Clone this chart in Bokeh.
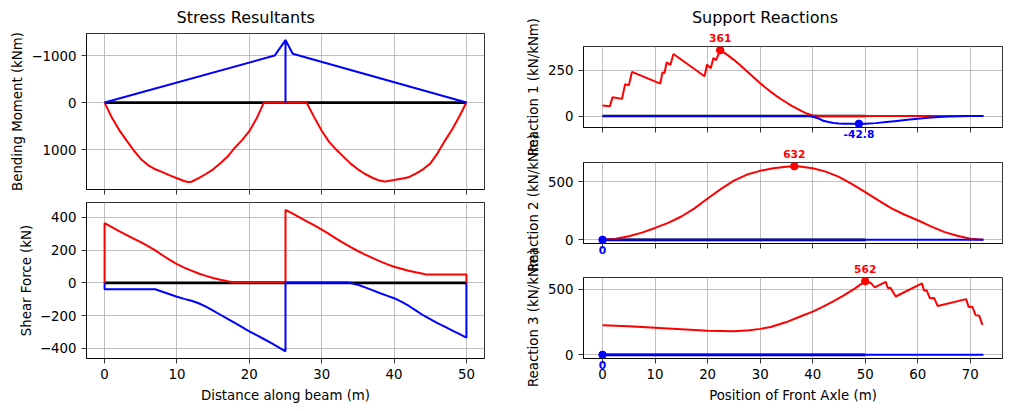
import math
from bokeh.plotting import figure
from bokeh.layouts import row, column
from bokeh.models import Range1d, FixedTicker, Label
from bokeh.embed import file_html
from bokeh.resources import INLINE

FONT = "DejaVu Sans"

# ---------------- beam data (left column) ----------------
beam_x = [0, 50]
beam_zero = [0, 0]

# bending moment envelope, sagging (red)
bm_max_x = [0, 1, 2, 3, 4, 5, 6, 7, 8, 9, 10, 11, 11.5, 12, 13, 14, 15, 16, 17, 18, 19, 20, 21, 22,
            25, 27.9, 29, 30, 31, 32, 33, 34, 35, 36, 37, 38, 38.7, 39, 40, 41, 42, 43, 44, 45, 46, 47, 48, 49, 50]
bm_max = [0, 320, 580, 800, 1010, 1200, 1330, 1420, 1480, 1550, 1610, 1670, 1690, 1685, 1610, 1520, 1420, 1290, 1150, 960, 800, 610, 340, 0,
          0, 0, 320, 600, 830, 1000, 1150, 1300, 1420, 1520, 1600, 1660, 1680, 1675, 1650, 1620, 1590, 1510, 1420, 1300, 1080, 820, 580, 300, 0]

# bending moment envelope, hogging (blue)
bm_min_x = [0, 23.5, 25, 25, 25, 26, 50]
bm_min = [0, -1000, -1330, 0, -1330, -1040, 0]

# shear force envelope, max (red)
sf_max_x = [0, 0, 1, 2, 3, 4, 5, 6, 7, 8, 9, 10, 11, 12, 13, 14, 15, 16, 17, 17.6, 25,
            25, 26, 27, 28, 29, 30, 31, 32, 33, 34, 35, 36, 37, 38, 39, 40, 41, 42, 43, 44, 44.5, 50, 50]
sf_max = [0, 364, 340, 316, 293, 270, 248, 224, 198, 168, 140, 114, 93, 74, 57, 42, 29, 18, 9, 5, 5,
          445, 422, 398, 374, 350, 325, 298, 270, 243, 217, 194, 172, 152, 132, 114, 98, 86, 74, 64, 55, 50, 50, 0]

# shear force envelope, min (blue)
sf_min_x = [0, 0, 7, 8, 9, 10, 11, 12, 13, 14, 15, 16, 17, 18, 19, 20, 21, 22, 23, 24, 25,
            25, 33.5, 34, 35, 36, 37, 38, 39, 40, 41, 42, 43, 44, 45, 46, 47, 48, 49, 50, 50]
sf_min = [0, -39, -39, -55, -70, -85, -98, -110, -125, -145, -170, -195, -220, -245, -270, -296, -320, -343, -367, -392, -418,
          2, 2, -2, -12, -28, -45, -62, -78, -94, -115, -140, -168, -198, -222, -246, -268, -290, -312, -334, 0]

# ---------------- support reactions (right column) ----------------
r1_max_x = [0, 1.4, 1.9, 3.7, 4.3, 5.0, 5.6, 11.0, 11.4, 11.8, 12.2, 12.9, 13.5, 19.4, 19.9, 20.6, 21.1, 21.6, 22.4,
            23, 24, 25, 26, 27, 28, 29, 30, 31, 32, 33, 34, 35, 36, 37, 38, 39, 40, 41, 72.5]
r1_max = [57, 53, 103, 94, 175, 168, 242, 178, 239, 236, 294, 280, 340, 218, 282, 262, 318, 306, 361,
          350, 330, 308, 284, 258, 232, 206, 180, 156, 133, 112, 92, 74, 56, 40, 25, 12, 3, 0, 0]
r1_min_x = [0, 39.5, 41, 42, 43, 44, 45, 46, 47, 48.8, 50, 52, 54, 56, 58, 60, 62, 64, 66, 68, 70, 72.5]
r1_min = [0, 0, -12, -26, -33, -38, -41, -42.2, -42.6, -42.8, -42.5, -39, -33, -27, -21, -15, -10, -6, -3, -1.5, -0.5, 0]

r2_max_x = [0, 2.5, 5, 7.5, 10, 12.5, 15, 17.5, 20, 22.5, 25, 27.5, 30, 32.5, 35, 36.5, 37.5, 40, 42.5, 45,
            47.5, 50, 52.5, 55, 57.5, 60, 62.5, 65, 67.5, 70, 72.5]
r2_max = [0, 10, 30, 62, 102, 145, 200, 270, 355, 435, 508, 560, 592, 615, 628, 632, 630, 615, 585, 540,
          478, 410, 338, 270, 215, 168, 115, 68, 35, 10, 0]
r2_min_x = [0, 72.5]
r2_min = [0, 0]

r3_max_x = [0, 5, 10, 15, 20, 25, 28, 30, 32, 35, 38, 40, 42, 44, 46, 48, 50,
            50.5, 51.0, 51.8, 53.9, 54.3, 54.8, 55.8, 60.8, 61.2, 61.7, 62.3, 63.1, 63.8, 69.2, 69.7, 70.4, 71.0, 71.7, 72.3]
r3_max = [225, 218, 207, 196, 183, 180, 188, 198, 212, 250, 298, 330, 368, 410, 455, 505, 562,
          548, 551, 515, 556, 510, 512, 445, 546, 490, 492, 432, 434, 372, 425, 364, 367, 303, 299, 228]
r3_min_x = [0, 72.5]
r3_min = [0, 0]

# ticks and labels
beam_xticks = [0, 10, 20, 30, 40, 50]
bm_yticks = [-1000, 0, 1000]
sf_yticks = [-400, -200, 0, 200, 400]
r_xticks = [0, 10, 20, 30, 40, 50, 60, 70]
r1_yticks = [0, 250]
r2_yticks = [0, 500]
r3_yticks = [0, 500]
reaction_labels = ["Reaction 1 (kN/kNm)", "Reaction 2 (kN/kNm)", "Reaction 3 (kN/kNm)"]

# ---------------- layout constants (pixels) ----------------
LEFT_W = 520
STRIP_W = 25
RIGHT_W = 1011 - LEFT_W - STRIP_W
R_FRAME_LEFT = 583 - LEFT_W - STRIP_W
R_FRAME_RIGHT = 9
R_TOPS = [46, 162, 277]          # frame tops of the three reaction panels
R_FRAME_H = 81
R_FIG_H = [145, 115, 151]


def minus_overrides(ticks):
    return {t: ("\u2212" + str(abs(t)) if t < 0 else str(t)) for t in ticks}


def make_fig(width, height, xr, yr, mbl, mbr, mbt, mbb):
    p = figure(width=width, height=height, x_range=xr, y_range=yr,
               output_backend="svg", toolbar_location=None,
               min_border_left=mbl, min_border_right=mbr,
               min_border_top=mbt, min_border_bottom=mbb)
    p.background_fill_color = "white"
    p.border_fill_color = "white"
    p.outline_line_color = "black"
    p.outline_line_width = 0.8
    p.outline_line_alpha = 1.0
    p.grid.grid_line_color = "#b0b0b0"
    p.grid.grid_line_width = 0.8
    for ax in p.axis:
        ax.axis_line_color = "black"
        ax.axis_line_width = 0.8
        ax.major_tick_line_color = "black"
        ax.major_tick_line_width = 0.8
        ax.major_tick_out = 5
        ax.major_tick_in = 0
        ax.minor_tick_line_color = None
        ax.major_label_text_font = FONT
        ax.major_label_text_font_size = "13.33px"
        ax.major_label_text_color = "black"
        ax.axis_label_text_font = FONT
        ax.axis_label_text_font_size = "13.33px"
        ax.axis_label_text_font_style = "normal"
        ax.axis_label_text_color = "black"
        ax.major_label_standoff = 5
        ax.axis_label_standoff = 6
    p.yaxis.axis_label_standoff = 3
    return p


def set_ticks(p, xticks, yticks, show_xlabels):
    p.xaxis.ticker = FixedTicker(ticks=xticks)
    p.yaxis.ticker = FixedTicker(ticks=yticks)
    p.yaxis.major_label_overrides = minus_overrides(yticks)
    if not show_xlabels:
        p.xaxis.major_label_text_font_size = "0px"
        p.xaxis.major_label_text_color = None
        p.xaxis.major_label_standoff = 0


def mark_extremes(p, xs_max, ys_max, xs_min, ys_min, min_side="below"):
    imax = max(range(len(ys_max)), key=lambda i: ys_max[i])
    imin = min(range(len(ys_min)), key=lambda i: ys_min[i])
    xm, ym = xs_max[imax], ys_max[imax]
    xn, yn = xs_min[imin], ys_min[imin]
    p.scatter(x=[xm], y=[ym], size=7.5, color="red")
    p.scatter(x=[xn], y=[yn], size=7.5, color="blue")
    p.add_layout(Label(x=xm, y=ym, text=f"{ym:.3g}", text_color="red", text_font=FONT,
                       text_font_style="bold", text_font_size="10.67px", text_align="center",
                       text_baseline="alphabetic", y_offset=12), "above")
    p.add_layout(Label(x=xn, y=yn, text=f"{yn:.3g}", text_color="blue", text_font=FONT,
                       text_font_style="bold", text_font_size="10.67px", text_align="center",
                       text_baseline="top", y_offset=-6), min_side)


BLACK_W = 2.7
COL_W = 2.0

# ---------- left column ----------
bx = Range1d(-2.5, 52.5)
p_bm = make_fig(LEFT_W, 200, bx, Range1d(1850, -1470), 86, 36, 33, 11)
set_ticks(p_bm, beam_xticks, bm_yticks, False)
p_bm.yaxis.axis_label = "Bending Moment (kNm)"
p_bm.title.text = "Stress Resultants"
p_bm.title.text_font = FONT
p_bm.title.text_font_size = "16px"
p_bm.title.text_font_style = "normal"
p_bm.title.text_color = "black"
p_bm.title.align = "left"
p_bm.title.offset = 90
p_bm.title.vertical_align = "middle"
p_bm.title.standoff = 12
p_bm.line(beam_x, beam_zero, color="black", line_width=BLACK_W)
p_bm.line(bm_max_x, bm_max, color="red", line_width=COL_W)
p_bm.line(bm_min_x, bm_min, color="blue", line_width=COL_W)

p_sf = make_fig(LEFT_W, 211, bx, Range1d(-462, 490), 86, 36, 2, 53)
set_ticks(p_sf, beam_xticks, sf_yticks, True)
p_sf.yaxis.axis_label = "Shear Force (kN)"
p_sf.xaxis.axis_label = "Distance along beam (m)"
p_sf.line(beam_x, beam_zero, color="black", line_width=BLACK_W)
p_sf.line(sf_max_x, sf_max, color="red", line_width=COL_W)
p_sf.line(sf_min_x, sf_min, color="blue", line_width=COL_W)

# ---------- strip holding the (overlapping) reaction axis titles ----------
strip = figure(width=STRIP_W, height=411, x_range=Range1d(0, STRIP_W), y_range=Range1d(411, 0),
               output_backend="svg", toolbar_location=None,
               x_axis_location=None, y_axis_location=None,
               min_border_left=0, min_border_right=0, min_border_top=0, min_border_bottom=0)
strip.outline_line_color = None
strip.grid.visible = False
strip.background_fill_color = "white"
strip.border_fill_color = "white"
for lab, top in zip(reaction_labels, R_TOPS):
    strip.add_layout(Label(x=STRIP_W / 2 + 0.5, y=top + R_FRAME_H / 2, text=lab, angle=math.pi / 2,
                           text_font=FONT, text_font_size="13.33px", text_color="black",
                           text_align="center", text_baseline="middle"))

# ---------- right column ----------
rx = Range1d(-3.625, 76.125)
p_r1 = make_fig(RIGHT_W, R_FIG_H[0], rx, Range1d(-63, 381.2), R_FRAME_LEFT, R_FRAME_RIGHT, 46, 18)
set_ticks(p_r1, r_xticks, r1_yticks, False)
p_r1.add_layout(Label(x=(rx.start + rx.end) / 2, y=p_r1.y_range.end, text="Support Reactions",
                      x_offset=-28, y_offset=29, text_font=FONT, text_font_size="16px",
                      text_color="black", text_align="center", text_baseline="middle"), "above")
p_r1.line(beam_x, beam_zero, color="black", line_width=BLACK_W)
p_r1.line(r1_max_x, r1_max, color="red", line_width=COL_W)
p_r1.line(r1_min_x, r1_min, color="blue", line_width=COL_W)
mark_extremes(p_r1, r1_max_x, r1_max, r1_min_x, r1_min)

p_r2 = make_fig(RIGHT_W, R_FIG_H[1], rx, Range1d(-31.6, 663.6), R_FRAME_LEFT, R_FRAME_RIGHT, 17, 17)
set_ticks(p_r2, r_xticks, r2_yticks, False)
p_r2.line(beam_x, beam_zero, color="black", line_width=BLACK_W)
p_r2.line(r2_max_x, r2_max, color="red", line_width=COL_W)
p_r2.line(r2_min_x, r2_min, color="blue", line_width=COL_W)
mark_extremes(p_r2, r2_max_x, r2_max, r2_min_x, r2_min)

p_r3 = make_fig(RIGHT_W, R_FIG_H[2], rx, Range1d(-28.1, 590.1), R_FRAME_LEFT, R_FRAME_RIGHT, 17, 53)
set_ticks(p_r3, r_xticks, r3_yticks, True)
p_r3.xaxis.axis_label = "Position of Front Axle (m)"
p_r3.line(beam_x, beam_zero, color="black", line_width=BLACK_W)
p_r3.line(r3_max_x, r3_max, color="red", line_width=COL_W)
p_r3.line(r3_min_x, r3_min, color="blue", line_width=COL_W)
mark_extremes(p_r3, r3_max_x, r3_max, r3_min_x, r3_min, min_side="right")

layout = row(column(p_bm, p_sf, spacing=0), strip,
             column(p_r1, p_r2, p_r3, spacing=0), spacing=0)

open("out.html", "w").write(file_html(layout, INLINE))
